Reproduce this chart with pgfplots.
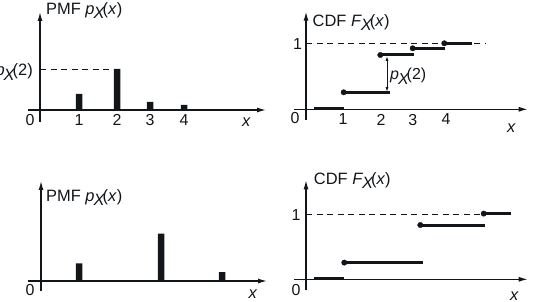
\documentclass[border=0pt]{standalone}
\usepackage{fontspec}
\setmainfont{Liberation Sans}
\usepackage{pgfplots}
\pgfplotsset{compat=1.18}
\usetikzlibrary{arrows.meta}
\definecolor{ink}{RGB}{18,22,26}
\newcommand{\sub}[1]{\kern-1bp\raisebox{-4.5bp}{\textit{#1}}\kern-2.5bp}
\newcommand{\lab}{\fontsize{16.5}{18}\selectfont}
\newcommand{\tlab}{\fontsize{16}{18}\selectfont}
\pgfplotsset{
  panel/.style={
    x=1bp, y=1bp,
    axis lines=middle,
    axis line style={line width=1.2bp, ink, -{Latex[length=9bp,width=5bp]}},
    ytick=\empty,
    major tick length=0,
    tick label style={font=\tlab, text=ink, inner sep=0bp},
    xticklabel style={anchor=north, yshift=-4.5bp},
    clip=false,
    anchor=south west,
  },
}
\begin{document}
\begin{tikzpicture}
\useasboundingbox (0,0) rectangle (534bp,302bp);
% ---------- top-left: PMF ----------
\begin{axis}[panel, at={(28bp,180bp)},
  xmin=-12, xmax=226, ymin=-12, ymax=98,
  xtick={39,77,110,144}, xticklabels={1,2,3,4}]
\addplot[ink, line width=0.9bp, dash pattern=on 6bp off 4.5bp] coordinates {(0,41) (74,41)};
\addplot[ybar, bar width=6.5, fill=ink, draw=none] coordinates {(39,16) (77,41) (110,8) (144,5)};
\node[anchor=base west, text=ink, inner sep=0] at (axis cs:6,96) {\lab PMF \textit{p}\sub{X}(\textit{x})};
\node[anchor=east, text=ink, inner sep=0] at (axis cs:-7,38) {\lab\textit{p}\sub{X}(2)};
\node[text=ink] at (axis cs:-10,-10.5) {\tlab 0};
\node[text=ink] at (axis cs:206.5,-12.5) {\lab\textit{x}};
\end{axis}
% ---------- top-right: CDF ----------
\begin{axis}[panel, at={(294bp,181.7bp)},
  xmin=-12, xmax=221.7, ymin=-11, ymax=97.6,
  xtick={37,75,106.7,140}, xticklabels={1,2,3,4}]
\addplot[ink, line width=0.9bp, dash pattern=on 6bp off 4.5bp] coordinates {(0,66) (179,66)};
\addplot[ink, line width=3bp] coordinates {(7.7,1) (38.3,1)};
\addplot[ink, line width=3bp] coordinates {(37.7,17) (84.3,17)};
\addplot[ink, line width=3bp] coordinates {(74.3,54.3) (107.7,54.3)};
\addplot[ink, line width=3bp] coordinates {(106.7,61) (138.7,61)};
\addplot[ink, line width=3bp] coordinates {(138.3,66) (166,66)};
\addplot[only marks, mark=*, mark size=2.7bp, ink] coordinates {(37.7,17) (74.3,54.3) (106.7,61) (138.3,66)};
\addplot[ink, line width=0.8bp, {Latex[length=4.5bp,width=3bp]}-{Latex[length=4.5bp,width=3bp]}] coordinates {(81,53) (81,17.6)};
\node[anchor=base west, text=ink, inner sep=0] at (axis cs:84,29.5) {\tlab\textit{p}\sub{X}(2)};
\node[anchor=base west, text=ink, inner sep=0] at (axis cs:6.5,83) {\lab CDF \textit{F}\sub{X}(\textit{x})};
\node[text=ink] at (axis cs:-8.5,65.5) {\tlab 1};
\node[text=ink] at (axis cs:-11,-9) {\tlab 0};
\node[text=ink] at (axis cs:205.5,-18.5) {\lab\textit{x}};
\end{axis}
% ---------- bottom-left: PMF ----------
\begin{axis}[panel, at={(28bp,11bp)},
  xmin=-13, xmax=226, ymin=-10, ymax=100,
  xtick=\empty]
\addplot[ybar, bar width=6.5, fill=ink, draw=none] coordinates {(38,17.7) (120,47.3) (181,9)};
\node[anchor=base west, text=ink, inner sep=0] at (axis cs:5,80) {\lab PMF \textit{p}\sub{X}(\textit{x})};
\node[text=ink] at (axis cs:-11,-9) {\tlab 0};
\node[text=ink] at (axis cs:212,-13) {\lab\textit{x}};
\end{axis}
% ---------- bottom-right: CDF ----------
\begin{axis}[panel, at={(294bp,11.7bp)},
  xmin=-12, xmax=221.7, ymin=-11, ymax=99,
  xtick=\empty]
\addplot[ink, line width=0.9bp, dash pattern=on 6bp off 4.5bp] coordinates {(0,65) (177.7,65)};
\addplot[ink, line width=3bp] coordinates {(7.7,0.7) (38.3,0.7)};
\addplot[ink, line width=3bp] coordinates {(38.3,16.7) (117,16.7)};
\addplot[ink, line width=3bp] coordinates {(114.3,54.3) (179.3,54.3)};
\addplot[ink, line width=3bp] coordinates {(177.7,65.7) (205.3,65.7)};
\addplot[only marks, mark=*, mark size=2.7bp, ink] coordinates {(38.3,16.7) (114.3,54.3) (177.7,65.7)};
\node[anchor=base west, text=ink, inner sep=0] at (axis cs:7.7,95) {\lab CDF \textit{F}\sub{X}(\textit{x})};
\node[text=ink] at (axis cs:-10,64.5) {\tlab 1};
\node[text=ink] at (axis cs:-10,-10.7) {\tlab 0};
\node[text=ink] at (axis cs:208.5,-16.7) {\lab\textit{x}};
\end{axis}
\end{tikzpicture}
\end{document}
